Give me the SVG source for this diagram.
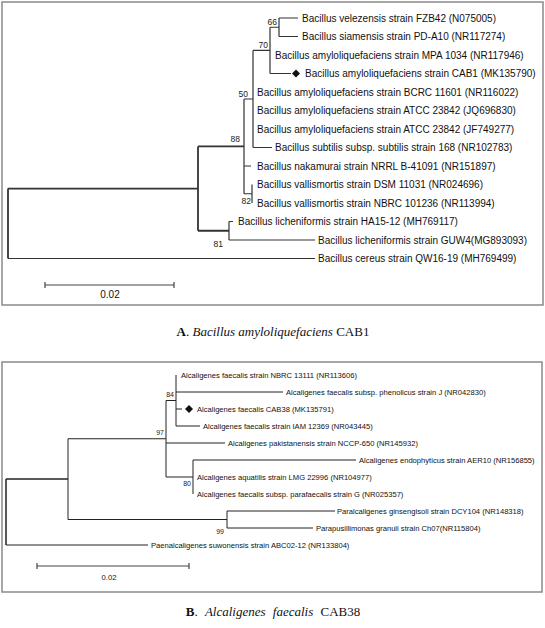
<svg xmlns="http://www.w3.org/2000/svg" width="545" height="628" viewBox="0 0 545 628">
<style>
.frame{fill:none;stroke:#8a8a8a;stroke-width:1.5}
.e1{fill:none;stroke:#333;stroke-width:1.2}
.e1b{fill:none;stroke:#333;stroke-width:1.8}
.e2{fill:none;stroke:#222;stroke-width:1}
.e2b{fill:none;stroke:#222;stroke-width:1.5}
.t1{font-family:"Liberation Sans",Arial,sans-serif;font-size:10px;fill:#111}
.t2{font-family:"Liberation Sans",Arial,sans-serif;font-size:7.6px;fill:#111}
.bs1{font-family:"Liberation Sans",Arial,sans-serif;font-size:8.5px;fill:#222;text-anchor:end}
.bs2{font-family:"Liberation Sans",Arial,sans-serif;font-size:7px;fill:#222;text-anchor:end}
.cap{font-family:"Liberation Serif","Times New Roman",serif;font-size:13px;fill:#111;text-anchor:middle}
.dia{fill:#111}
.sb{fill:none;stroke:#444;stroke-width:1.2}
</style>
<rect class="frame" x="2" y="2" width="541" height="303"/>
<rect class="frame" x="2" y="362" width="540" height="230"/>

<g id="connectors">
  <!-- tree A -->
  <path class="e1b" d="M8,188.6 V258.5 M8,188.6 H198 M198,146.4 V230.75 M198,146.4 H244 M198,230.75 H229"/>
  <path class="e1" d="M8,258.5 H315"/>
  <path class="e1" d="M229,221.5 V240 M229,221.5 H233 M229,240 H315"/>
  <path class="e1" d="M244,99 V193.75 M244,99 H253 M244,166 H251 M244,193.75 H252"/>
  <path class="e1" d="M252,184.5 V203"/>
  <path class="e1" d="M253,50.4 V147.5 M253,50.4 H270 M253,147.5 H272"/>
  <path class="e1" d="M270,27.25 V73.5 M270,27.25 H279 M270,73.5 H291"/>
  <path class="e1" d="M279,18 V36.5 M279,18 H298 M279,36.5 H298"/>
  <!-- tree B -->
  <path class="e2b" d="M6,479 V545 M6,479 H68"/>
  <path class="e2" d="M6,545 H148"/>
  <path class="e2" d="M68,438.75 V519.5 M68,438.75 H166 M68,519.5 H227"/>
  <path class="e2" d="M227,511 V528 M227,511 H335 M227,528 H313"/>
  <path class="e2" d="M166,400.5 V477 M166,400.5 H176 M166,443 H225 M166,477 H193"/>
  <path class="e2" d="M176,375 V426 M176,392 H283 M176,409 H182 M176,426 H200"/>
  <path class="e2" d="M193,460 V494 M193,460 H356"/>
</g>

<g id="bootstrap-A">
  <text class="bs1" x="277" y="25">66</text>
  <text class="bs1" x="268" y="48">70</text>
  <text class="bs1" x="248" y="97">50</text>
  <text class="bs1" x="240" y="142">88</text>
  <text class="bs1" x="251" y="204">82</text>
  <text class="bs1" x="223" y="247">81</text>
</g>

<g id="nodeA1"><text class="t1" x="302" y="21.5">Bacillus velezensis strain FZB42 (N075005)</text></g>
<g id="nodeA2"><text class="t1" x="302" y="40">Bacillus siamensis strain PD-A10 (NR117274)</text></g>
<g id="nodeA3"><text class="t1" x="275" y="58.5">Bacillus amyloliquefaciens strain MPA 1034 (NR117946)</text></g>
<g id="nodeA4"><path class="dia" d="M296,69.5 L300,73.5 L296,77.5 L292,73.5 Z"/><text class="t1" x="305" y="77">Bacillus amyloliquefaciens strain CAB1 (MK135790)</text></g>
<g id="nodeA5"><text class="t1" x="257" y="95.5">Bacillus amyloliquefaciens strain BCRC 11601 (NR116022)</text></g>
<g id="nodeA6"><text class="t1" x="257" y="114">Bacillus amyloliquefaciens strain ATCC 23842 (JQ696830)</text></g>
<g id="nodeA7"><text class="t1" x="257" y="132.5">Bacillus amyloliquefaciens strain ATCC 23842 (JF749277)</text></g>
<g id="nodeA8"><text class="t1" x="275" y="151">Bacillus subtilis subsp. subtilis strain 168 (NR102783)</text></g>
<g id="nodeA9"><text class="t1" x="257" y="169.5">Bacillus nakamurai strain NRRL B-41091 (NR151897)</text></g>
<g id="nodeA10"><text class="t1" x="257" y="188">Bacillus vallismortis strain DSM 11031 (NR024696)</text></g>
<g id="nodeA11"><text class="t1" x="257" y="206.5">Bacillus vallismortis strain NBRC 101236 (NR113994)</text></g>
<g id="nodeA12"><text class="t1" x="238" y="225">Bacillus licheniformis strain HA15-12 (MH769117)</text></g>
<g id="nodeA13"><text class="t1" x="318" y="243.5">Bacillus licheniformis strain GUW4(MG893093)</text></g>
<g id="nodeA14"><text class="t1" x="318" y="262">Bacillus cereus strain QW16-19 (MH769499)</text></g>

<g id="scaleA">
  <path class="sb" d="M45,285 H174 M45,282 V288 M174,282 V288"/>
  <text class="t1" x="110" y="298" font-size="8.5" text-anchor="middle">0.02</text>
</g>

<text class="cap" x="273" y="336"><tspan font-weight="bold">A</tspan>. <tspan font-style="italic">Bacillus amyloliquefaciens</tspan> CAB1</text>

<g id="bootstrap-B">
  <text class="bs2" x="174" y="397">84</text>
  <text class="bs2" x="164" y="435">97</text>
  <text class="bs2" x="191" y="486">80</text>
  <text class="bs2" x="224" y="534">99</text>
</g>

<g id="nodeB1"><text class="t2" x="181" y="377.8">Alcaligenes faecalis strain NBRC 13111 (NR113606)</text></g>
<g id="nodeB2"><text class="t2" x="286" y="394.8">Alcaligenes faecalis subsp. phenolicus strain J (NR042830)</text></g>
<g id="nodeB3"><path class="dia" d="M189,405 L193,409 L189,413 L185,409 Z"/><text class="t2" x="197" y="411.8">Alcaligenes faecalis CAB38 (MK135791)</text></g>
<g id="nodeB4"><text class="t2" x="203" y="428.8">Alcaligenes faecalis strain IAM 12369 (NR043445)</text></g>
<g id="nodeB5"><text class="t2" x="228" y="445.8">Alcaligenes pakistanensis strain NCCP-650 (NR145932)</text></g>
<g id="nodeB6"><text class="t2" x="359" y="462.8">Alcaligenes endophyticus strain AER10 (NR156855)</text></g>
<g id="nodeB7"><text class="t2" x="197" y="479.8">Alcaligenes aquatilis strain LMG 22996 (NR104977)</text></g>
<g id="nodeB8"><text class="t2" x="197" y="496.8">Alcaligenes faecalis subsp. parafaecalis strain G (NR025357)</text></g>
<g id="nodeB9"><text class="t2" x="337" y="513.8">Paralcaligenes ginsengisoli strain DCY104 (NR148318)</text></g>
<g id="nodeB10"><text class="t2" x="316" y="530.8">Parapusillimonas granuli strain Ch07(NR115804)</text></g>
<g id="nodeB11"><text class="t2" x="151" y="547.8">Paenalcaligenes suwonensis strain ABC02-12 (NR133804)</text></g>

<g id="scaleB">
  <path class="sb" d="M37,566 H189 M37,563 V569 M189,563 V569"/>
  <text class="t2" x="109" y="580" font-size="7.5" text-anchor="middle">0.02</text>
</g>

<text class="cap" x="273" y="616" word-spacing="4"><tspan font-weight="bold">B</tspan>. <tspan font-style="italic">Alcaligenes faecalis</tspan> CAB38</text>
</svg>
